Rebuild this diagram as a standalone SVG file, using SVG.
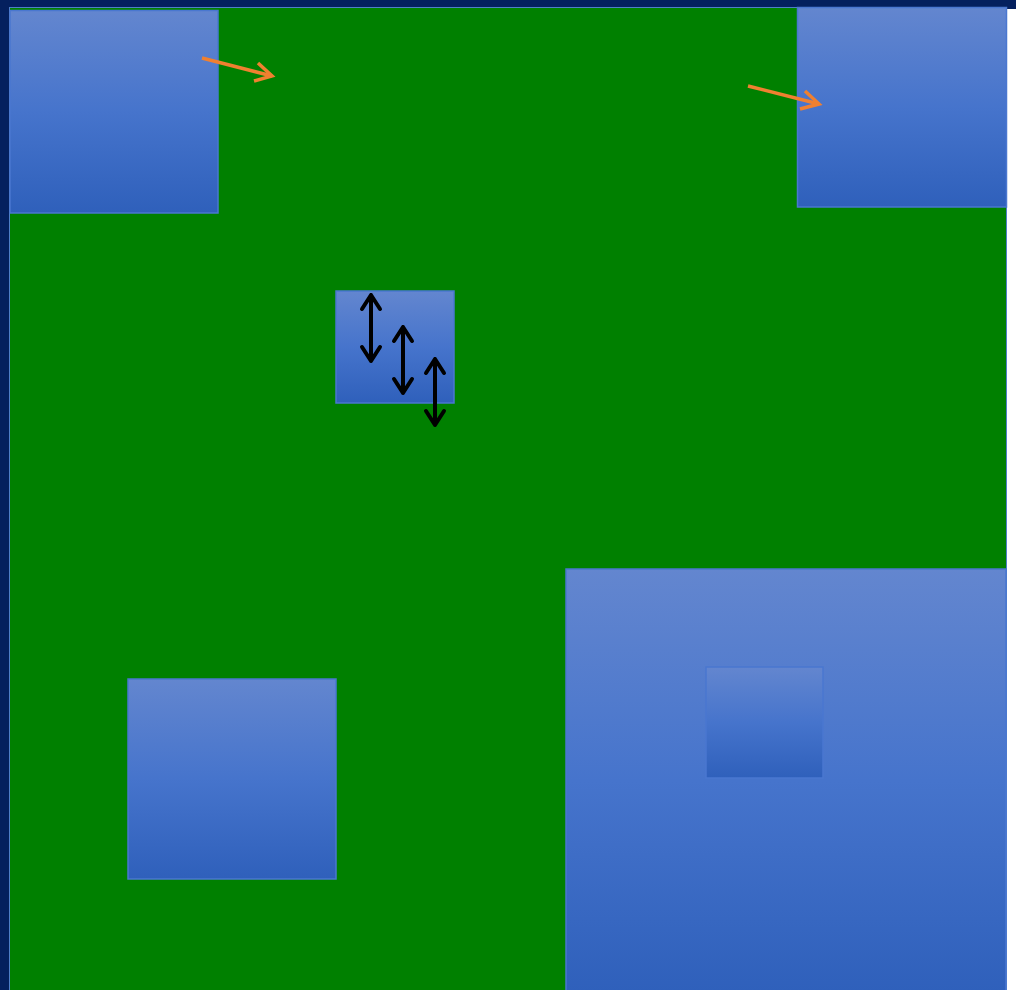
<svg xmlns="http://www.w3.org/2000/svg" width="1016" height="990" viewBox="0 0 1016 990">
<defs>
<linearGradient id="g" x1="0" y1="0" x2="0" y2="1">
<stop offset="0" stop-color="#6386cf"/>
<stop offset="0.5" stop-color="#4674cc"/>
<stop offset="1" stop-color="#2f60bb"/>
</linearGradient>
</defs>
<style>
.box{fill:url(#g);stroke:#4a77d0;stroke-width:1.5}
.orange{fill:none;stroke:#f08030;stroke-width:3.5;stroke-linecap:butt}
.black{fill:none;stroke:#000;stroke-width:4;stroke-linecap:round;stroke-linejoin:round}
</style>
<rect x="0" y="0" width="1016" height="990" fill="#04205e"/>
<rect x="1007" y="9" width="9" height="981" fill="#ffffff"/>
<rect x="9.5" y="7.5" width="997" height="990" fill="#008000" stroke="#4f7fc8" stroke-width="1"/>
<g id="node-a"><rect class="box" x="10" y="10.5" width="208" height="202.5"/></g>
<g id="node-b"><rect class="box" x="797.5" y="7.5" width="209" height="199.5"/></g>
<g id="node-c"><rect class="box" x="336" y="291" width="118" height="112"/></g>
<g id="node-d"><rect class="box" x="128" y="679" width="208" height="200"/></g>
<g id="node-e"><rect class="box" x="566" y="569" width="440" height="424"/></g>
<g id="node-f"><rect class="box" x="706" y="667" width="117" height="111"/></g>
<g id="connectors">
<path class="orange" d="M202 58 L272 76"/>
<path class="orange" d="M258 63 L272 76 L254 81"/>
<path class="orange" d="M748 86 L819 104"/>
<path class="orange" d="M805 91 L819 104 L800 109"/>
<path class="black" d="M371 295 V361 M362 309 L371 295 L380 309 M362 347 L371 361 L380 347"/>
<path class="black" d="M403 327 V393 M394 341 L403 327 L412 341 M394 379 L403 393 L412 379"/>
<path class="black" d="M435 359 V425 M426 373 L435 359 L444 373 M426 411 L435 425 L444 411"/>
</g>
</svg>
